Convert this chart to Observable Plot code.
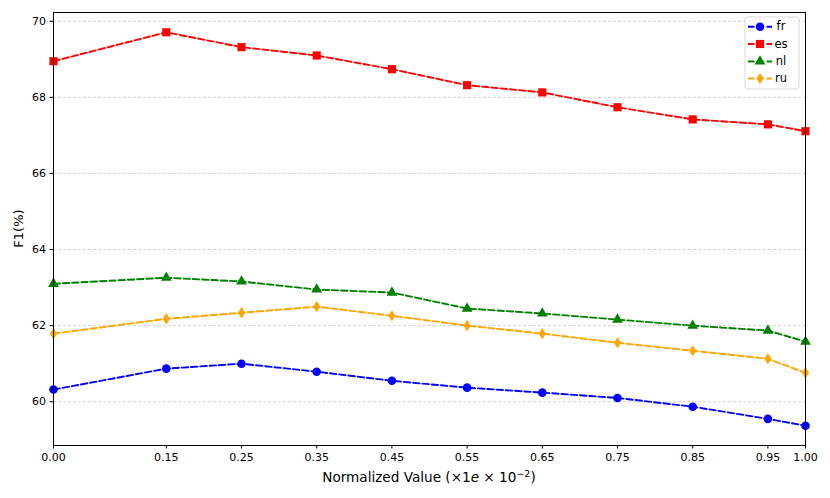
<!DOCTYPE html>
<html><head><meta charset="utf-8">
<script src="https://cdn.jsdelivr.net/npm/d3@7"></script>
<script src="https://cdn.jsdelivr.net/npm/@observablehq/plot@0.6"></script>
<style>
body{margin:0;background:#fff}
svg{font-family:"DejaVu Sans",sans-serif}
</style>
</head><body><div id="chart"></div>
<script>
const xValues = [0.00, 0.15, 0.25, 0.35, 0.45, 0.55, 0.65, 0.75, 0.85, 0.95, 1.00];
const xTickLabels = ["0.00","0.15","0.25","0.35","0.45","0.55","0.65","0.75","0.85","0.95","1.00"];
const yTicks = [60, 62, 64, 66, 68, 70];
const fr = [60.32, 60.87, 61.00, 60.79, 60.55, 60.37, 60.24, 60.10, 59.87, 59.55, 59.37];
const es = [68.95, 69.71, 69.32, 69.10, 68.74, 68.32, 68.13, 67.74, 67.42, 67.29, 67.11];
const nl = [63.10, 63.26, 63.16, 62.95, 62.87, 62.45, 62.32, 62.16, 62.00, 61.87, 61.58];
const ru = [61.79, 62.18, 62.34, 62.50, 62.26, 62.00, 61.79, 61.55, 61.34, 61.13, 60.76];
const languages = ["fr", "es", "nl", "ru"];
const colors = ["blue", "red", "green", "orange"];
const seriesValues = [fr, es, nl, ru];

const thinDiamond = {draw(ctx, size) {
  const h = 5.6, w = 3.6;
  ctx.moveTo(0, -h); ctx.lineTo(w, 0); ctx.lineTo(0, h); ctx.lineTo(-w, 0); ctx.closePath();
}};
const symbols = ["circle", "square", "triangle", thinDiamond];
const radii = [4.3, 4.6, 4.0, 4];
const dash = "6.5,2.8";

const rows = languages.flatMap((lang, i) => seriesValues[i].map((v, j) => ({lang, x: xValues[j], y: v})));

const lineMarks = languages.map((lang, i) => Plot.line(rows.filter(d => d.lang === lang), {
  x: "x", y: "y", stroke: colors[i], strokeWidth: 1.9, strokeDasharray: dash
}));
const dotMarks = languages.map((lang, i) => Plot.dot(rows.filter(d => d.lang === lang), {
  x: "x", y: "y", fill: colors[i], stroke: "none", symbol: () => symbols[i], r: radii[i]
}));

const chart = Plot.plot({
  width: 830, height: 498,
  marginLeft: 53, marginRight: 25, marginTop: 12, marginBottom: 53,
  style: {fontFamily: "DejaVu Sans, sans-serif", fontSize: "11px", color: "#000", background: "#fff"},
  x: {domain: [0, 1], label: null},
  y: {domain: [58.85, 70.23], label: null},
  symbol: {type: "identity"},
  marks: [
    Plot.gridY(yTicks, {stroke: "#c8c8c8", strokeOpacity: 1, strokeDasharray: "3,2", strokeWidth: 0.8}),
    Plot.axisX(xValues, {tickFormat: (d, i) => xTickLabels[i], tickSize: 3.5, tickPadding: 4, fontSize: 11, label: null}),
    Plot.axisY(yTicks, {tickFormat: d => String(d), tickSize: 3.5, tickPadding: 4, fontSize: 11, label: null}),
    ...lineMarks,
    ...dotMarks,
    Plot.frame({stroke: "#000", strokeWidth: 1})
  ]
});
document.getElementById("chart").appendChild(chart);

const svg = d3.select(chart);
// axis labels
svg.append("text").attr("x", 19).attr("y", 228.5)
  .attr("transform", "rotate(-90,19,228.5)").attr("text-anchor", "middle")
  .attr("dominant-baseline", "middle").attr("font-size", 13).attr("fill", "#000").text("F1(%)");
const xl = svg.append("text").attr("x", 429).attr("y", 482).attr("text-anchor", "middle")
  .attr("font-size", 13.6).attr("fill", "#000");
xl.append("tspan").text("Normalized Value (×1");
xl.append("tspan").attr("font-style", "italic").text("e");
xl.append("tspan").text(" × 10");
xl.append("tspan").attr("font-size", 9.5).attr("dy", -5.5).text("−2");
xl.append("tspan").attr("dy", 5.5).text(")");

// legend
const lg = svg.append("g");
lg.append("rect").attr("x", 745).attr("y", 17).attr("width", 54).attr("height", 72)
  .attr("rx", 2.5).attr("fill", "#fff").attr("fill-opacity", 0.8).attr("stroke", "#d0d0d0").attr("stroke-width", 0.8);
const rowY = [26.7, 44, 61.5, 78.5];
const legendSymbols = [d3.symbolCircle, d3.symbolSquare, d3.symbolTriangle, thinDiamond];
languages.forEach((lang, i) => {
  const y = rowY[i];
  lg.append("line").attr("x1", 748).attr("x2", 772).attr("y1", y).attr("y2", y)
    .attr("stroke", colors[i]).attr("stroke-width", 1.9).attr("stroke-dasharray", dash);
  const sz = Math.PI * radii[i] * radii[i];
  lg.append("path").attr("d", d3.symbol(legendSymbols[i], sz)()).attr("transform", `translate(760,${y})`).attr("fill", colors[i]);
  lg.append("text").attr("x", 781).attr("y", y).attr("dominant-baseline", "middle")
    .attr("font-size", 11.5).attr("fill", "#000").text(lang);
});
</script></body></html>
